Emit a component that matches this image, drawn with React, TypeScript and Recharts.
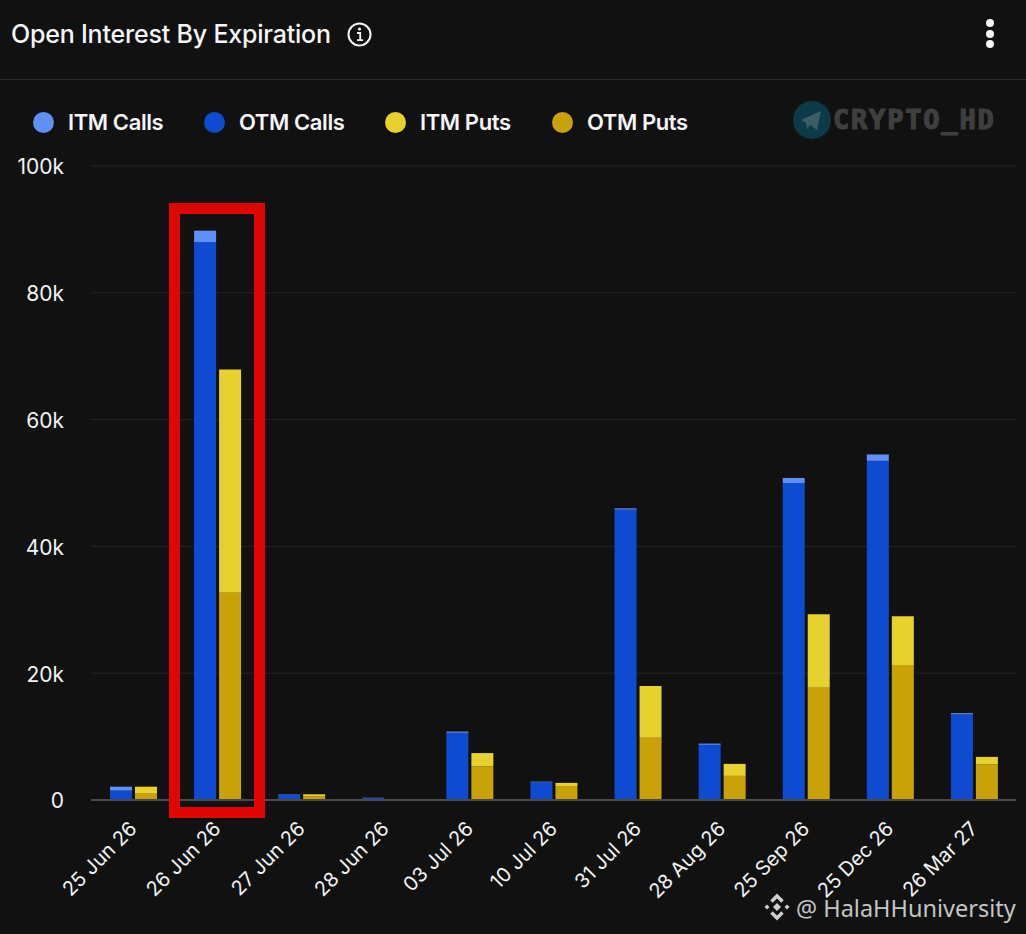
import React from 'react';
import { BarChart, Bar, XAxis, YAxis, CartesianGrid } from 'recharts';

const expirations = ['25 Jun 26', '26 Jun 26', '27 Jun 26', '28 Jun 26', '03 Jul 26', '10 Jul 26', '31 Jul 26', '28 Aug 26', '25 Sep 26', '25 Dec 26', '26 Mar 27'];
const otmCalls = [1500, 88000, 850, 350, 10600, 2800, 45800, 8700, 50000, 53500, 13500];
const itmCalls = [600, 1800, 50, 30, 200, 100, 200, 200, 800, 1000, 200];
const otmPuts = [1100, 32700, 600, 0, 5300, 2200, 9800, 3800, 17700, 21300, 5600];
const itmPuts = [1000, 35200, 300, 0, 2100, 500, 8200, 1900, 11600, 7700, 1200];
const yTicks = [0, 20000, 40000, 60000, 80000, 100000];

const legendItems = [
  { label: 'ITM Calls', color: '#5f8ff7', x: 33 },
  { label: 'OTM Calls', color: '#0f4bd0', x: 204 },
  { label: 'ITM Puts', color: '#e7d12f', x: 385 },
  { label: 'OTM Puts', color: '#c9a109', x: 552 },
];

const data = expirations.map((name, i) => ({
  name,
  otmCalls: otmCalls[i],
  itmCalls: itmCalls[i],
  otmPuts: otmPuts[i],
  itmPuts: itmPuts[i],
}));

const font = 'Inter, "Noto Sans", sans-serif';

const XTick = ({ x, y, payload }: any) => (
  <text
    x={x + 5}
    y={y + 22}
    fill="#f2f2f2"
    fontSize={20}
    fontFamily={font}
    textAnchor="end"
    transform={`rotate(-45 ${x + 5} ${y + 22})`}
  >
    {payload.value}
  </text>
);

const App = () => (
  <div style={{ position: 'absolute', left: 0, top: 0, width: 1026, height: 934, background: '#111112', overflow: 'hidden', fontFamily: font }}>
    <BarChart
      width={1026}
      height={934}
      data={data}
      margin={{ top: 166, right: 10, left: 0, bottom: 0 }}
      barSize={22}
      barGap={3}
    >
      <CartesianGrid vertical={false} stroke="#242425" strokeWidth={1} />
      <XAxis
        dataKey="name"
        height={134}
        interval={0}
        tickLine={false}
        axisLine={{ stroke: '#4a4a4a', strokeWidth: 2 }}
        tick={<XTick />}
      />
      <YAxis
        width={91}
        domain={[0, 100000]}
        ticks={yTicks}
        tickLine={false}
        axisLine={false}
        tickMargin={21}
        tick={{ fill: '#f2f2f2', fontSize: 21, fontFamily: font, dy: 1 }}
        tickFormatter={(v: number) => (v === 0 ? '0' : `${v / 1000}k`)}
      />
      <Bar dataKey="otmCalls" stackId="calls" fill="#0f4bd0" isAnimationActive={false} />
      <Bar dataKey="itmCalls" stackId="calls" fill="#5f8ff7" isAnimationActive={false} />
      <Bar dataKey="otmPuts" stackId="puts" fill="#c9a109" isAnimationActive={false} />
      <Bar dataKey="itmPuts" stackId="puts" fill="#e7d12f" isAnimationActive={false} />
    </BarChart>

    {/* header */}
    <div style={{ position: 'absolute', left: 11, top: 18, color: '#f5f5f5', fontSize: 25, lineHeight: '32px', fontWeight: 500, letterSpacing: -0.2, whiteSpace: 'nowrap' }}>
      Open Interest By Expiration
    </div>
    <svg style={{ position: 'absolute', left: 346, top: 21 }} width={27} height={27}>
      <circle cx={13.5} cy={13.5} r={11} fill="none" stroke="#f5f5f5" strokeWidth={2} />
      <circle cx={13.5} cy={8} r={1.6} fill="#f5f5f5" />
      <path d="M11 12 H14.2 V19 M11 19.2 H17" fill="none" stroke="#f5f5f5" strokeWidth={1.8} />
    </svg>
    <svg style={{ position: 'absolute', left: 980, top: 16 }} width={20} height={36}>
      <circle cx={10} cy={7} r={4} fill="#f5f5f5" />
      <circle cx={10} cy={18} r={4} fill="#f5f5f5" />
      <circle cx={10} cy={28} r={4} fill="#f5f5f5" />
    </svg>
    <div style={{ position: 'absolute', left: 0, top: 79, width: 1026, height: 1, background: '#2c2c2d' }} />

    {/* legend */}
    {legendItems.map((item) => (
      <div key={item.label} style={{ position: 'absolute', left: item.x, top: 110, height: 24, display: 'flex', alignItems: 'center', whiteSpace: 'nowrap' }}>
        <span style={{ width: 21, height: 21, borderRadius: '50%', background: item.color, marginRight: 14 }} />
        <span style={{ color: '#f5f5f5', fontSize: 22, fontWeight: 600, letterSpacing: -0.4 }}>{item.label}</span>
      </div>
    ))}

    {/* telegram watermark */}
    <svg style={{ position: 'absolute', left: 792, top: 100 }} width={40} height={40}>
      <circle cx={20} cy={20} r={19} fill="#0c3a48" />
      <path d="M9 20 L29 11 L25 30 L18 25 L15 29 L14 23 Z" fill="#3d5c66" />
    </svg>
    <div style={{ position: 'absolute', left: 833, top: 104, color: '#3f3f40', fontSize: 27, lineHeight: '32px', fontWeight: 700, fontFamily: '"DejaVu Sans Mono", monospace', letterSpacing: 1.8, WebkitTextStroke: '1.2px #3f3f40', whiteSpace: 'nowrap' }}>
      CRYPTO_HD
    </div>

    {/* highlight box */}
    <div style={{ position: 'absolute', left: 169, top: 203, width: 96, height: 615, boxSizing: 'border-box', border: '11px solid #e00505' }} />

    {/* binance watermark */}
    <svg style={{ position: 'absolute', left: 763, top: 893 }} width={28} height={28} viewBox="0 0 28 28">
      <g fill="none" stroke="#cfcfcf" strokeWidth={3.4}>
        <path d="M8.5 8.5 L14 3 L19.5 8.5" />
        <path d="M8.5 19.5 L14 25 L19.5 19.5" />
      </g>
      <g fill="#cfcfcf">
        <path d="M14 10 L18 14 L14 18 L10 14 Z" />
        <path d="M4 11.5 L6.5 14 L4 16.5 L1.5 14 Z" />
        <path d="M24 11.5 L26.5 14 L24 16.5 L21.5 14 Z" />
      </g>
    </svg>
    <div style={{ position: 'absolute', left: 796, top: 892, color: '#c4c4c4', fontSize: 23.5, lineHeight: '32px', fontFamily: '"Noto Sans", sans-serif', whiteSpace: 'nowrap' }}>
      @ HalaHHuniversity
    </div>
  </div>
);

export default App;
